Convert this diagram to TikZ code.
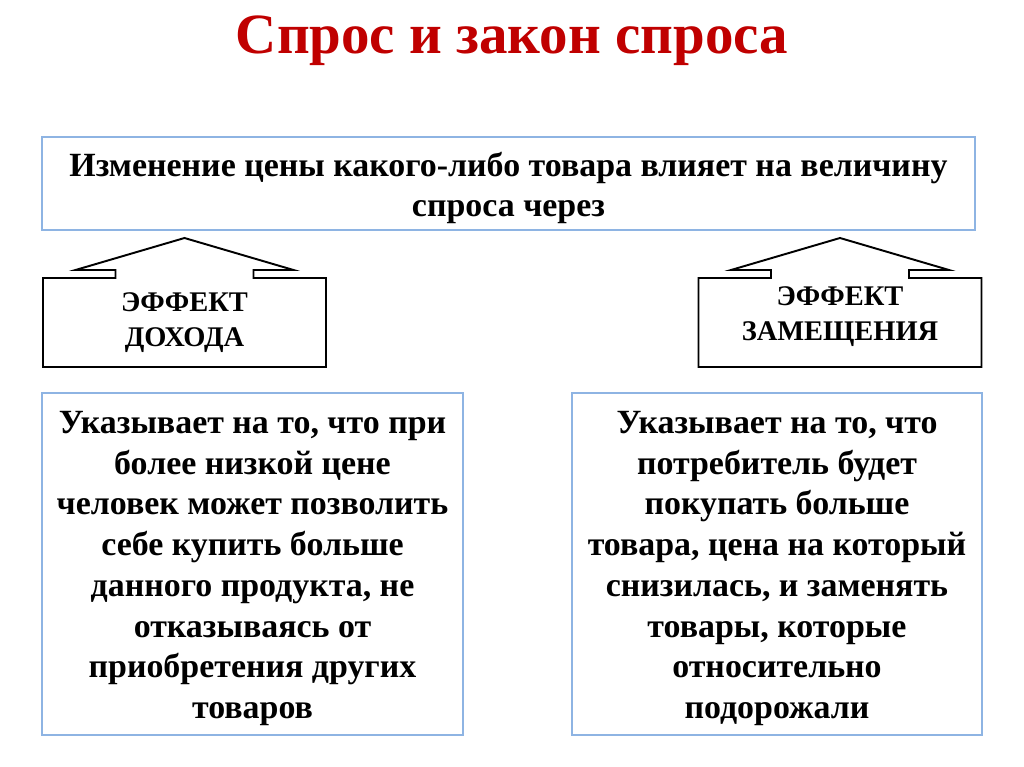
\documentclass[tikz,border=0pt]{standalone}
\usepackage{fontspec}
\setmainfont{Liberation Serif}
\definecolor{boxblue}{HTML}{8EB4E3}
\definecolor{titlered}{HTML}{C00000}
\begin{document}
\begin{tikzpicture}[x=0.02cm,y=-0.02cm,
	bluebox/.style={draw=boxblue,line width=0.8pt,inner sep=0pt},
	boxtext/.style={align=center,inner sep=0pt,font=\fontsize{19.3}{23.2}\selectfont\bfseries},
	house/.style={draw,line width=1.1pt,line join=miter},
	housetext/.style={align=center,font=\fontsize{16.2}{19.8}\selectfont\bfseries}]
	\useasboundingbox (0,0) rectangle (1024,767);
	\newcommand{\effect}[4]{%
		\draw[house] (#1-141.5,367) -- (#1-141.5,278) -- (#1-69,278) -- (#1-69,270) -- (#1-109,270)
			-- (#1,238) -- (#1+109,270) -- (#1+69,270) -- (#1+69,278) -- (#1+141.5,278) -- (#1+141.5,367) -- cycle;
		\node[housetext] (#2) at (#1,#3) {#4};}
	\node[text=titlered,font=\fontsize{32.4}{38}\selectfont\bfseries] (title) at (512,41) {Спрос и закон спроса};
	\node[bluebox,minimum width=933*0.02cm,minimum height=93*0.02cm] (intro) at (508.5,183.5) {};
	\node[boxtext] (introtext) at (508.5,188)
		{Изменение цены какого-либо товара влияет на величину\\спроса через};
	\effect{184.5}{income}{323}{ЭФФЕКТ\\ДОХОДА}
	\effect{840}{subst}{317}{ЭФФЕКТ\\ЗАМЕЩЕНИЯ}
	\node[bluebox,minimum width=421*0.02cm,minimum height=342*0.02cm] (incomebox) at (252.5,564) {};
	\node[boxtext] (incometext) at (252.5,568.5)
		{Указывает на то, что при\\более низкой цене\\человек может позволить\\себе купить больше\\данного продукта, не\\отказываясь от\\приобретения других\\товаров};
	\node[bluebox,minimum width=410*0.02cm,minimum height=342*0.02cm] (substbox) at (777,564) {};
	\node[boxtext] (substtext) at (777,568.5)
		{Указывает на то, что\\потребитель будет\\покупать больше\\товара, цена на который\\снизилась, и заменять\\товары, которые\\относительно\\подорожали};
\end{tikzpicture}
\end{document}
